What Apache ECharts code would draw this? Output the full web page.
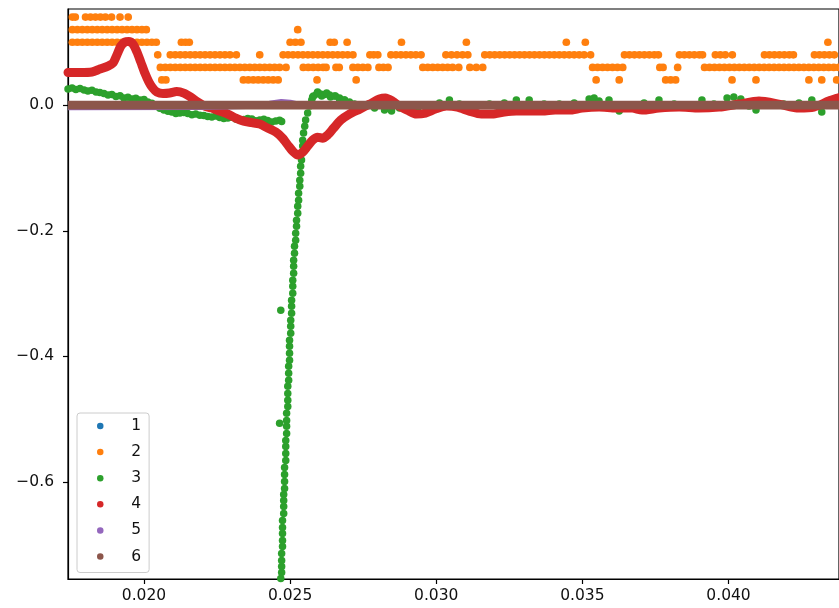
<!DOCTYPE html>
<html>
<head>
<meta charset="utf-8">
<script src="https://cdn.jsdelivr.net/npm/echarts@6/dist/echarts.min.js"></script>
<style>
html,body{margin:0;padding:0;background:#fff;}
#chart{width:839px;height:608px;}
</style>
</head>
<body>
<div id="chart"></div>
<script>
// ---- axis ticks ----
const xTicks = [0.020, 0.025, 0.030, 0.035, 0.040];
const yTicks = [-0.6, -0.4, -0.2, 0.0];
const seriesNames = ['1', '2', '3', '4', '5', '6'];
const colors = ['#1f77b4', '#ff7f0e', '#2ca02c', '#d62728', '#9467bd', '#8c564b'];

// ---- series 1 (blue, hidden under 6) ----
const s1Points = [[0.01740, 0.0], [0.02500, 0.0], [0.04380, 0.0]];

// ---- series 2 (orange): quantized levels, x positions per level ----
const orangeLevels = [0.14, 0.12, 0.10, 0.08, 0.06, 0.04];
const o14 = [0.01755,0.01765,0.01800,0.01817,0.01834,0.01851,0.01868,0.01889,0.01918,0.01946];
const o12 = [0.01755,0.01772,0.01789,0.01806,0.01823,0.01840,0.01857,0.01874,0.01891,0.01908,0.01925,0.01942,0.01959,0.01976,0.01993,0.02008,0.02526];
const o10 = [0.01755,0.01772,0.01789,0.01806,0.01823,0.01840,0.01857,0.01874,0.01891,0.01908,0.01925,0.01942,0.01959,0.01976,0.01993,0.02010,0.02027,0.02042,
  0.02128,0.02142,0.02155,0.02500,0.02518,0.02537,0.02637,0.02651,0.02695,0.02881,0.03103,0.03445,0.03510,0.04340];
const o08 = [0.02047,
  0.02090,0.02107,0.02124,0.02141,0.02158,0.02175,0.02192,0.02209,0.02226,0.02243,0.02260,0.02277,0.02294,0.02316,
  0.02396,
  0.02476,0.02493,0.02510,0.02527,0.02544,0.02561,0.02578,0.02595,0.02612,0.02629,0.02646,0.02663,0.02680,0.02697,0.02715,
  0.02773,0.02786,0.02800,
  0.02845,0.02862,0.02879,0.02896,0.02913,0.02930,0.02948,
  0.03033,0.03052,0.03071,0.03090,0.03108,
  0.03166,0.03183,0.03200,0.03217,0.03234,0.03251,0.03268,0.03285,0.03302,0.03319,0.03336,0.03353,0.03370,0.03387,0.03404,0.03421,0.03438,0.03455,0.03472,0.03489,0.03506,0.03528,
  0.03644,0.03661,0.03678,0.03695,0.03712,0.03729,0.03746,0.03760,
  0.03832,0.03849,0.03866,0.03883,0.03900,0.03911,
  0.03955,0.03972,0.03989,0.04013,
  0.04123,0.04140,0.04157,0.04174,0.04191,0.04208,0.04222,
  0.04294,0.04311,0.04328,0.04345,0.04362,0.04379];
const o06 = [0.02056,0.02073,0.02090,0.02107,0.02124,0.02141,0.02158,0.02175,0.02192,0.02209,0.02226,0.02243,0.02260,0.02277,0.02294,0.02311,0.02328,0.02345,0.02362,0.02379,0.02396,0.02413,0.02430,0.02447,0.02464,0.02486,
  0.02545,0.02562,0.02579,0.02596,0.02613,0.02623,
  0.02657,0.02668,
  0.02715,0.02732,0.02749,0.02766,
  0.02804,0.02819,0.02835,
  0.02954,0.02971,0.02988,0.03005,0.03022,0.03039,0.03056,0.03077,
  0.03115,0.03137,0.03159,
  0.03535,0.03552,0.03569,0.03586,0.03603,0.03620,0.03638,
  0.03765,0.03776,
  0.03826,
  0.03918,0.03935,0.03952,0.03969,0.03986,0.04003,0.04020,0.04037,0.04054,0.04071,0.04088,0.04105,0.04122,0.04139,0.04156,0.04173,0.04190,0.04207,0.04224,0.04241,0.04258,0.04275,0.04292,0.04309,0.04326,0.04343,0.04360,0.04377];
const o04 = [0.02061,0.02075,
  0.02340,0.02357,0.02374,0.02391,0.02408,0.02425,0.02442,0.02459,
  0.02592,0.02726,0.03547,0.03626,
  0.03785,0.03802,0.03819,
  0.04012,0.04094,0.04275,0.04319,0.04370];
const orangeRows = [o14, o12, o10, o08, o06, o04];

// ---- series 3 (green) ----
const s3Left = [[0.01740,0.0255],[0.01754,0.0270],[0.01767,0.0247],[0.01781,0.0262],[0.01795,0.0239],[0.01808,0.0225],[0.01822,0.0235],[0.01836,0.0210],
  [0.01849,0.0199],[0.01863,0.0185],[0.01877,0.0159],[0.01890,0.0170],[0.01904,0.0135],[0.01918,0.0150],[0.01931,0.0112],[0.01945,0.0125],
  [0.01959,0.0096],[0.01972,0.0108],[0.01986,0.0080],[0.02000,0.0090],[0.02013,0.0048],[0.02027,0.0030],[0.02041,-0.0016],[0.02054,-0.0050],
  [0.02068,-0.0080],[0.02082,-0.0100],[0.02095,-0.0112],[0.02109,-0.0135],[0.02123,-0.0127],[0.02136,-0.0120],[0.02150,-0.0135],[0.02164,-0.0155],
  [0.02177,-0.0143],[0.02191,-0.0160],[0.02205,-0.0167],[0.02218,-0.0180],[0.02232,-0.0191],[0.02246,-0.0175],[0.02259,-0.0199],[0.02273,-0.0215],
  [0.02287,-0.0207],[0.02300,-0.0195],[0.02314,-0.0223],[0.02328,-0.0240],[0.02341,-0.0231],[0.02355,-0.0215],[0.02369,-0.0223],[0.02382,-0.0250],
  [0.02396,-0.0239],[0.02410,-0.0225],[0.02423,-0.0247],[0.02437,-0.0270],[0.02451,-0.0255],[0.02464,-0.0240],[0.02471,-0.0263]];
const s3Rise = [[0.02466,-0.7700],[0.02468,-0.7534],[0.02471,-0.7439],[0.02471,-0.7343],[0.02471,-0.7248],[0.02471,-0.7136],[0.02474,-0.7025],
  [0.02474,-0.6929],[0.02474,-0.6818],[0.02474,-0.6722],[0.02474,-0.6611],[0.02478,-0.6499],[0.02478,-0.6388],[0.02478,-0.6292],[0.02478,-0.6196],
  [0.02481,-0.6101],[0.02481,-0.5989],[0.02481,-0.5878],[0.02481,-0.5766],[0.02485,-0.5655],[0.02485,-0.5543],[0.02485,-0.5432],[0.02485,-0.5336],
  [0.02488,-0.5225],[0.02488,-0.5113],[0.02488,-0.5018],[0.02488,-0.4906],[0.02492,-0.4795],[0.02492,-0.4699],[0.02492,-0.4588],[0.02492,-0.4476],
  [0.02495,-0.4380],[0.02495,-0.4269],[0.02495,-0.4157],[0.02498,-0.4062],[0.02498,-0.3950],[0.02498,-0.3839],[0.02498,-0.3743],[0.02502,-0.3632],
  [0.02502,-0.3520],[0.02502,-0.3425],[0.02505,-0.3313],[0.02505,-0.3202],[0.02505,-0.3106],[0.02509,-0.2995],[0.02509,-0.2883],[0.02509,-0.2788],
  [0.02512,-0.2676],[0.02512,-0.2565],[0.02512,-0.2469],[0.02515,-0.2357],[0.02515,-0.2246],[0.02519,-0.2150],[0.02519,-0.2039],[0.02522,-0.1927],
  [0.02522,-0.1832],[0.02526,-0.1720],[0.02526,-0.1609],[0.02529,-0.1513],[0.02529,-0.1402],[0.02533,-0.1290],[0.02533,-0.1195],[0.02536,-0.1083],
  [0.02536,-0.0972],[0.02539,-0.0876],[0.02539,-0.0765],[0.02543,-0.0653],[0.02543,-0.0558],[0.02546,-0.0446],[0.02550,-0.0335],[0.02553,-0.0239],
  [0.02560,-0.0127],[0.02567,-0.0016],[0.02574,0.0080],[0.02580,0.0143],[0.02591,0.0175],[0.02604,0.0175],[0.02618,0.0167],[0.02635,0.0159],
  [0.02652,0.0143],[0.02669,0.0112],[0.02686,0.0080],[0.02703,0.0048],
  [0.02577,0.0127],[0.02594,0.0207],[0.02608,0.0143],[0.02625,0.0191],[0.02638,0.0127],[0.02655,0.0143],[0.02669,0.0096],[0.02686,0.0080],
  [0.02468,-0.3265],[0.02464,-0.5065]];
const s3Right = [[0.02720,0.0016],[0.02755,-0.0016],[0.02789,-0.0048],[0.02823,-0.0080],[0.02847,-0.0096],[0.02874,-0.0048],[0.02908,-0.0080],
  [0.02936,-0.0096],[0.02970,-0.0016],[0.03011,0.0032],[0.03045,0.0080],[0.03079,0.0016],[0.03130,0.0],[0.03182,0.0016],[0.03233,0.0032],
  [0.03274,0.0080],[0.03318,0.0080],[0.03369,0.0016],[0.03421,0.0016],[0.03472,0.0032],[0.03523,0.0096],[0.03540,0.0112],[0.03557,0.0064],
  [0.03591,0.0080],[0.03626,-0.0096],[0.03660,0.0],[0.03711,0.0032],[0.03762,0.0080],[0.03814,0.0016],[0.03865,0.0],[0.03909,0.0080],
  [0.03950,0.0016],[0.03995,0.0112],[0.04018,0.0127],[0.04042,0.0096],[0.04070,-0.0016],[0.04094,-0.0080],[0.04138,0.0016],[0.04189,0.0016],
  [0.04241,0.0032],[0.04285,0.0080],[0.04319,-0.0112],[0.04350,0.0016],[0.04374,0.0032]];

// ---- series 4 (red) ----
const s4Points = [[0.01740,0.0518],[0.01781,0.0518],[0.01822,0.0526],[0.01849,0.0573],[0.01877,0.0621],[0.01894,0.0669],[0.01907,0.0796],
  [0.01921,0.0940],[0.01935,0.1004],[0.01948,0.1011],[0.01962,0.0972],[0.01976,0.0844],[0.01989,0.0685],[0.02003,0.0510],[0.02017,0.0366],
  [0.02030,0.0271],[0.02044,0.0207],[0.02065,0.0183],[0.02088,0.0191],[0.02112,0.0215],[0.02136,0.0191],[0.02160,0.0127],[0.02184,0.0048],
  [0.02208,-0.0016],[0.02232,-0.0048],[0.02259,-0.0096],[0.02287,-0.0143],[0.02314,-0.0207],[0.02341,-0.0255],[0.02369,-0.0279],[0.02396,-0.0303],
  [0.02423,-0.0366],[0.02451,-0.0430],[0.02474,-0.0526],[0.02495,-0.0653],[0.02512,-0.0749],[0.02526,-0.0796],[0.02543,-0.0749],[0.02560,-0.0653],
  [0.02577,-0.0558],[0.02594,-0.0510],[0.02611,-0.0526],[0.02628,-0.0478],[0.02649,-0.0366],[0.02673,-0.0239],[0.02703,-0.0143],[0.02738,-0.0064],
  [0.02772,0.0016],[0.02806,0.0096],[0.02826,0.0112],[0.02850,0.0064],[0.02874,-0.0016],[0.02901,-0.0080],[0.02932,-0.0143],[0.02963,-0.0127],
  [0.02997,-0.0064],[0.03035,-0.0016],[0.03072,-0.0032],[0.03113,-0.0096],[0.03154,-0.0143],[0.03192,-0.0143],[0.03233,-0.0112],[0.03274,-0.0096],
  [0.03318,-0.0096],[0.03363,-0.0096],[0.03407,-0.0080],[0.03455,-0.0080],[0.03499,-0.0048],[0.03557,-0.0032],[0.03615,-0.0048],[0.03670,-0.0048],
  [0.03704,-0.0080],[0.03762,-0.0048],[0.03831,-0.0032],[0.03899,-0.0048],[0.03967,-0.0032],[0.04036,0.0016],[0.04104,0.0064],[0.04172,0.0016],
  [0.04241,-0.0048],[0.04292,-0.0032],[0.04343,0.0064],[0.04374,0.0112],[0.04385,0.0127]];

// ---- series 5 (purple) ----
const s5Points = [[0.01740,-0.0028],[0.02200,-0.0024],[0.02350,-0.0008],[0.02430,0.0015],[0.02470,0.0040],[0.02500,0.0030],[0.02530,0.0],[0.04380,0.0]];

// ---- series 6 (brown) ----
const s6Points = [[0.01740,0.0],[0.02500,0.0],[0.04380,0.0]];

// ---- build ----
const orangeData = [];
orangeRows.forEach((row, i) => row.forEach(x => orangeData.push([x, orangeLevels[i]])));
const greenData = s3Left.concat(s3Rise, s3Right);

const FONT = 'DejaVu Sans';
const fmtY = v => (v < 0 ? '\u2212' : '') + Math.abs(v).toFixed(1);

const chart = echarts.init(document.getElementById('chart'), null, {renderer: 'canvas'});
chart.setOption({
  animation: false,
  backgroundColor: '#fff',
  color: colors,
  grid: {left: 68, right: -1, top: 9, bottom: 29, show: true, borderColor: '#000', borderWidth: 1.2, backgroundColor: 'transparent'},
  xAxis: {
    type: 'value', min: 0.01740, max: 0.04378,
    axisLine: {show: true, onZero: false, lineStyle: {color: '#000', width: 1.2}},
    axisTick: {show: true, length: 5, lineStyle: {color: '#000', width: 1.2}, customValues: xTicks},
    axisLabel: {customValues: xTicks, formatter: v => v.toFixed(3), color: '#111', fontSize: 15.5, fontFamily: FONT, margin: 9},
    splitLine: {show: false}
  },
  yAxis: {
    type: 'value', min: -0.7542, max: 0.1529,
    axisLine: {show: true, onZero: false, lineStyle: {color: '#000', width: 1.2}},
    axisTick: {show: true, length: 5, lineStyle: {color: '#000', width: 1.2}, customValues: yTicks},
    axisLabel: {customValues: yTicks, formatter: fmtY, color: '#111', fontSize: 15.5, fontFamily: FONT, margin: 14},
    splitLine: {show: false}
  },
  legend: {
    orient: 'vertical', left: 77, top: 413,
    icon: 'circle', itemWidth: 52, itemHeight: 6.5, itemGap: 10.1,
    padding: [5, 8, 8, 20],
    borderColor: '#cccccc', borderWidth: 1, borderRadius: 3,
    backgroundColor: 'rgba(255,255,255,0.8)',
    textStyle: {color: '#111', fontSize: 15.5, fontFamily: FONT, lineHeight: 16},
    data: seriesNames
  },
  series: [
    {name: '1', type: 'line', data: s1Points, symbol: 'none', lineStyle: {width: 7, color: colors[0]}, itemStyle: {color: colors[0]}, silent: true},
    {name: '2', type: 'scatter', data: orangeData, symbolSize: 7.7, itemStyle: {color: colors[1], opacity: 1}, silent: true},
    {name: '3', type: 'scatter', data: greenData, symbolSize: 7.5, itemStyle: {color: colors[2], opacity: 1}, silent: true},
    {name: '4', type: 'line', data: s4Points, symbol: 'none', smooth: 0.25, lineStyle: {width: 9, color: colors[3], cap: 'round', join: 'round'}, itemStyle: {color: colors[3]}, silent: true},
    {name: '5', type: 'line', data: s5Points, symbol: 'none', lineStyle: {width: 7, color: colors[4]}, itemStyle: {color: colors[4]}, silent: true},
    {name: '6', type: 'line', data: s6Points, symbol: 'none', lineStyle: {width: 8.7, color: colors[5], cap: 'butt'}, itemStyle: {color: colors[5]}, silent: true}
  ]
});
</script>
</body>
</html>
